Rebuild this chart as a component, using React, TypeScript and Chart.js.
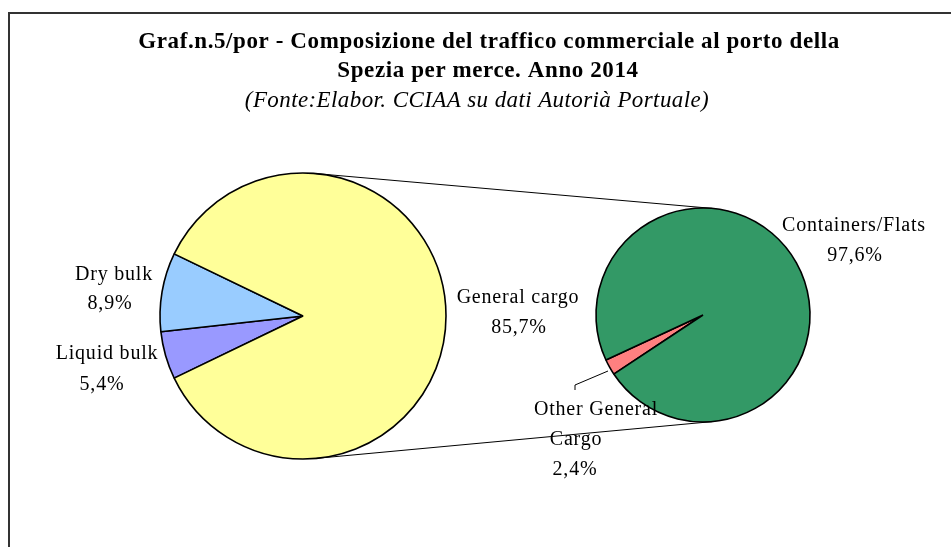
import React, { useEffect, useRef } from 'react';
import { Chart, registerables } from 'chart.js';

Chart.register(...registerables);

// ---- data ----
const titleLines = [
  'Graf.n.5/por - Composizione del traffico commerciale al porto della',
  'Spezia per merce. Anno 2014',
];
const subtitle = '(Fonte:Elabor. CCIAA su dati Autorià Portuale)';

// main pie (clockwise order)
const mainCategories = ['Liquid bulk', 'Dry bulk', 'General cargo'];
const mainValues = [5.4, 8.9, 85.7];
const mainColors = ['#9999FF', '#99CCFF', '#FFFF99'];

// secondary pie (breakdown of General cargo)
const subCategories = ['Other General Cargo', 'Containers/Flats'];
const subValues = [2.4, 97.6];
const subColors = ['#FF8080', '#339966'];

const FONT = "'Liberation Serif', 'Times New Roman', serif";
const W = 951;
const H = 547;

const fmt = (v: number) => v.toFixed(1).replace('.', ',') + '%';

// label layout: [category, lines, positions (x,y) per line]
const mainLabelLayout: Record<string, { lines: string[]; pos: [number, number][] }> = {
  'Dry bulk': { lines: ['Dry bulk'], pos: [[114, 275], [110, 304]] },
  'Liquid bulk': { lines: ['Liquid bulk'], pos: [[107, 354], [102, 385]] },
  'General cargo': { lines: ['General cargo'], pos: [[518, 298], [519, 328]] },
};
const subLabelLayout: Record<string, { lines: string[]; pos: [number, number][] }> = {
  'Containers/Flats': { lines: ['Containers/Flats'], pos: [[854, 226], [855, 256]] },
  'Other General Cargo': { lines: ['Other General', 'Cargo'], pos: [[596, 410], [576, 440], [575, 470]] },
};

export default function App() {
  const c1 = useRef<HTMLCanvasElement | null>(null);
  const c2 = useRef<HTMLCanvasElement | null>(null);

  useEffect(() => {
    if (!c1.current || !c2.current) return;

    const c1x = 303, c1y = 316, r1 = 143;
    const c2x = 703, c2y = 315, r2 = 107;

    const mainTotal = mainValues.reduce((a, b) => a + b, 0);
    const genIdx = mainCategories.indexOf('General cargo');
    const otherShare = (mainTotal - mainValues[genIdx]) / mainTotal;
    const mainRotation = 270 - otherShare * 180;

    const chart1 = new Chart(c1.current, {
      type: 'pie',
      data: {
        labels: mainCategories,
        datasets: [
          {
            data: mainValues,
            backgroundColor: mainColors,
            borderColor: '#000000',
            borderWidth: 1.6,
          },
        ],
      },
      options: {
        responsive: false,
        animation: false,
        radius: r1,
        rotation: mainRotation,
        layout: {
          padding: { left: c1x - 150, right: W - (c1x + 150), top: c1y - 150, bottom: H - (c1y + 150) },
        },
        plugins: { legend: { display: false }, tooltip: { enabled: false }, title: { display: false } },
      },
    });

    const drawLines = (ctx: CanvasRenderingContext2D, lines: string[], pos: [number, number][]) => {
      lines.forEach((t, i) => {
        ctx.fillText(t, pos[i][0], pos[i][1]);
      });
    };

    const overlay = {
      id: 'overlay',
      beforeDatasetsDraw(chart: any) {
        const ctx = chart.ctx as CanvasRenderingContext2D;
        const a1: any = chart1.getDatasetMeta(0).data[0];
        const a2: any = chart.getDatasetMeta(0).data[0];
        const x1 = a1.x, y1 = a1.y, R1 = a1.outerRadius;
        const x2 = a2.x, y2 = a2.y, R2 = a2.outerRadius;
        const dx = x2 - x1, dy = y2 - y1;
        const d = Math.hypot(dx, dy);
        const phi = Math.atan2(dy, dx);
        const beta = Math.acos((R1 - R2) / d);
        ctx.save();
        ctx.strokeStyle = '#000';
        ctx.lineWidth = 1;
        [phi - beta, phi + beta].forEach((ang) => {
          const nx = Math.cos(ang), ny = Math.sin(ang);
          ctx.beginPath();
          ctx.moveTo(x1 + R1 * nx, y1 + R1 * ny);
          ctx.lineTo(x2 + R2 * nx, y2 + R2 * ny);
          ctx.stroke();
        });
        ctx.restore();
      },
      afterDraw(chart: any) {
        const ctx = chart.ctx as CanvasRenderingContext2D;
        ctx.save();
        // frame
        ctx.strokeStyle = '#333';
        ctx.lineWidth = 2;
        ctx.beginPath();
        ctx.moveTo(9, H);
        ctx.lineTo(9, 13);
        ctx.lineTo(W, 13);
        ctx.stroke();

        ctx.fillStyle = '#000';
        ctx.textAlign = 'center';
        ctx.textBaseline = 'middle';
        // title
        ctx.font = `bold 23px ${FONT}`;
        (ctx as any).letterSpacing = '0.6px';
        ctx.fillText(titleLines[0], 489, 42);
        ctx.fillText(titleLines[1], 488, 71);
        ctx.font = `italic 23px ${FONT}`;
        (ctx as any).letterSpacing = '0.4px';
        ctx.fillText(subtitle, 477, 101);

        // labels
        ctx.font = `20px ${FONT}`;
        (ctx as any).letterSpacing = '0.8px';
        mainCategories.forEach((cat, i) => {
          const l = mainLabelLayout[cat];
          drawLines(ctx, [...l.lines, fmt(mainValues[i])], l.pos);
        });
        subCategories.forEach((cat, i) => {
          const l = subLabelLayout[cat];
          drawLines(ctx, [...l.lines, fmt(subValues[i])], l.pos);
        });

        // leader line for Other General Cargo
        ctx.strokeStyle = '#000';
        ctx.lineWidth = 1;
        ctx.beginPath();
        ctx.moveTo(575, 390);
        ctx.lineTo(575, 385);
        ctx.lineTo(608, 371);
        ctx.stroke();
        ctx.restore();
      },
    };

    const chart2 = new Chart(c2.current, {
      type: 'pie',
      data: {
        labels: subCategories,
        datasets: [
          {
            data: subValues,
            backgroundColor: subColors,
            borderColor: '#000000',
            borderWidth: 1.6,
          },
        ],
      },
      options: {
        responsive: false,
        animation: false,
        radius: r2,
        rotation: 236.5,
        layout: {
          padding: { left: c2x - 120, right: W - (c2x + 120), top: c2y - 120, bottom: H - (c2y + 120) },
        },
        plugins: { legend: { display: false }, tooltip: { enabled: false }, title: { display: false } },
      },
      plugins: [overlay],
    });

    return () => {
      chart2.destroy();
      chart1.destroy();
    };
  }, []);

  return (
    <div style={{ position: 'fixed', left: 0, top: 0, width: W, height: H, background: '#fff' }}>
      <canvas ref={c1} width={W} height={H} style={{ position: 'absolute', left: 0, top: 0 }} />
      <canvas ref={c2} width={W} height={H} style={{ position: 'absolute', left: 0, top: 0 }} />
    </div>
  );
}
